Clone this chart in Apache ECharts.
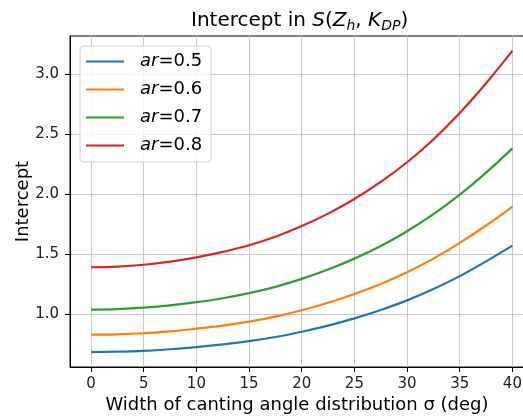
<!DOCTYPE html>
<html>
<head>
<meta charset="utf-8">
<script src="https://cdn.jsdelivr.net/npm/echarts@6/dist/echarts.min.js"></script>
<style>html,body{margin:0;padding:0;background:#fff}#c{width:523px;height:420px}</style>
</head>
<body>
<div id="c"></div>
<script>
const sigma = [0, 2.5, 5, 7.5, 10, 12.5, 15, 17.5, 20, 22.5, 25, 27.5, 30, 32.5, 35, 37.5, 40];
const ar05 = [0.683, 0.686, 0.693, 0.706, 0.724, 0.746, 0.773, 0.808, 0.852, 0.903, 0.963, 1.033, 1.113, 1.207, 1.315, 1.438, 1.569];
const ar06 = [0.827, 0.830, 0.839, 0.855, 0.877, 0.903, 0.936, 0.978, 1.031, 1.093, 1.166, 1.250, 1.348, 1.461, 1.592, 1.737, 1.895];
const ar07 = [1.036, 1.040, 1.052, 1.071, 1.098, 1.131, 1.173, 1.226, 1.292, 1.370, 1.461, 1.566, 1.689, 1.831, 1.994, 2.178, 2.380];
const ar08 = [1.389, 1.395, 1.410, 1.436, 1.472, 1.517, 1.572, 1.643, 1.732, 1.836, 1.958, 2.100, 2.264, 2.454, 2.674, 2.922, 3.194];
const seriesNames = ['ar=0.5', 'ar=0.6', 'ar=0.7', 'ar=0.8'];
const colors = ['#1f77b4', '#ff7f0e', '#2ca02c', '#d62728'];
const xTicks = [0, 5, 10, 15, 20, 25, 30, 35, 40];
const yTicks = [1.0, 1.5, 2.0, 2.5, 3.0];

const font = 'DejaVu Sans';
const allY = [ar05, ar06, ar07, ar08];
const chart = echarts.init(document.getElementById('c'), null, {renderer: 'canvas'});
chart.setOption({
  animation: false,
  backgroundColor: '#fff',
  title: {
    text: '{n|Intercept in }{i|S}{n|(}{i|Z}{s|h}{n|, }{i|K}{s|DP}{n|)}',
    left: 191, top: 9, padding: 0,
    textStyle: {
      fontWeight: 'normal',
      rich: {
        n: {fontFamily: font, fontSize: 20, fontWeight: 'normal', color: '#000', lineHeight: 24},
        i: {fontFamily: font, fontSize: 20, fontWeight: 'normal', fontStyle: 'italic', color: '#000', lineHeight: 24},
        s: {fontFamily: font, fontSize: 14, fontWeight: 'normal', fontStyle: 'italic', color: '#000', lineHeight: 14, verticalAlign: 'bottom'}
      }
    }
  },
  legend: {
    orient: 'vertical', left: 80, top: 46,
    padding: [5, 9, 6, 6],
    icon: 'path://M0,0L38,0L38,2.2L0,2.2Z',
    itemWidth: 38, itemHeight: 14, itemGap: 7,
    borderColor: '#d0d0d0', borderWidth: 1, borderRadius: 4,
    backgroundColor: 'rgba(255,255,255,0.8)',
    formatter: function (name) { return '{g|}{i|ar}{n|=' + name.split('=')[1] + '}'; },
    textStyle: {
      fontFamily: font, fontSize: 18, color: '#000', lineHeight: 21,
      rich: {
        g: {width: 11},
        i: {fontFamily: font, fontSize: 18, fontStyle: 'italic', color: '#000', lineHeight: 21},
        n: {fontFamily: font, fontSize: 18, color: '#000', lineHeight: 21}
      }
    },
    data: seriesNames
  },
  grid: {left: 70, right: -1, top: 36, bottom: 53, show: true, borderColor: '#000', borderWidth: 1,
    containLabel: false, outerBoundsMode: 'none'},
  xAxis: {
    type: 'value', min: -2, max: 41.1,
    name: 'Width of canting angle distribution σ (deg)',
    nameLocation: 'middle', nameGap: 29, nameMoveOverlap: false,
    nameTextStyle: {fontFamily: font, fontSize: 18, color: '#000'},
    axisLine: {show: true, onZero: false, lineStyle: {color: '#000', width: 1}},
    axisTick: {show: true, length: 5, customValues: xTicks, lineStyle: {color: '#000'}},
    axisLabel: {customValues: xTicks, margin: 10, fontFamily: font, fontSize: 15, color: '#222'},
    splitLine: {show: true, lineStyle: {color: '#c8c8c8', width: 1}}
  },
  yAxis: {
    type: 'value', min: 0.558, max: 3.316,
    name: 'Intercept', nameLocation: 'middle', nameGap: 38, nameRotate: 90, nameMoveOverlap: false,
    nameTextStyle: {fontFamily: font, fontSize: 18, color: '#000'},
    axisLine: {show: true, onZero: false, lineStyle: {color: '#000', width: 1}},
    axisTick: {show: true, length: 5, customValues: yTicks, lineStyle: {color: '#000'}},
    axisLabel: {customValues: yTicks, margin: 11, fontFamily: font, fontSize: 15, color: '#222',
      formatter: v => v.toFixed(1)},
    splitLine: {show: true, lineStyle: {color: '#c8c8c8', width: 1}}
  },
  series: seriesNames.map((n, k) => ({
    name: n, type: 'line', symbol: 'none', smooth: 0.4,
    color: colors[k],
    lineStyle: {color: colors[k], width: 2.2},
    data: sigma.map((s, i) => [s, allY[k][i]])
  }))
});
</script>
</body>
</html>
